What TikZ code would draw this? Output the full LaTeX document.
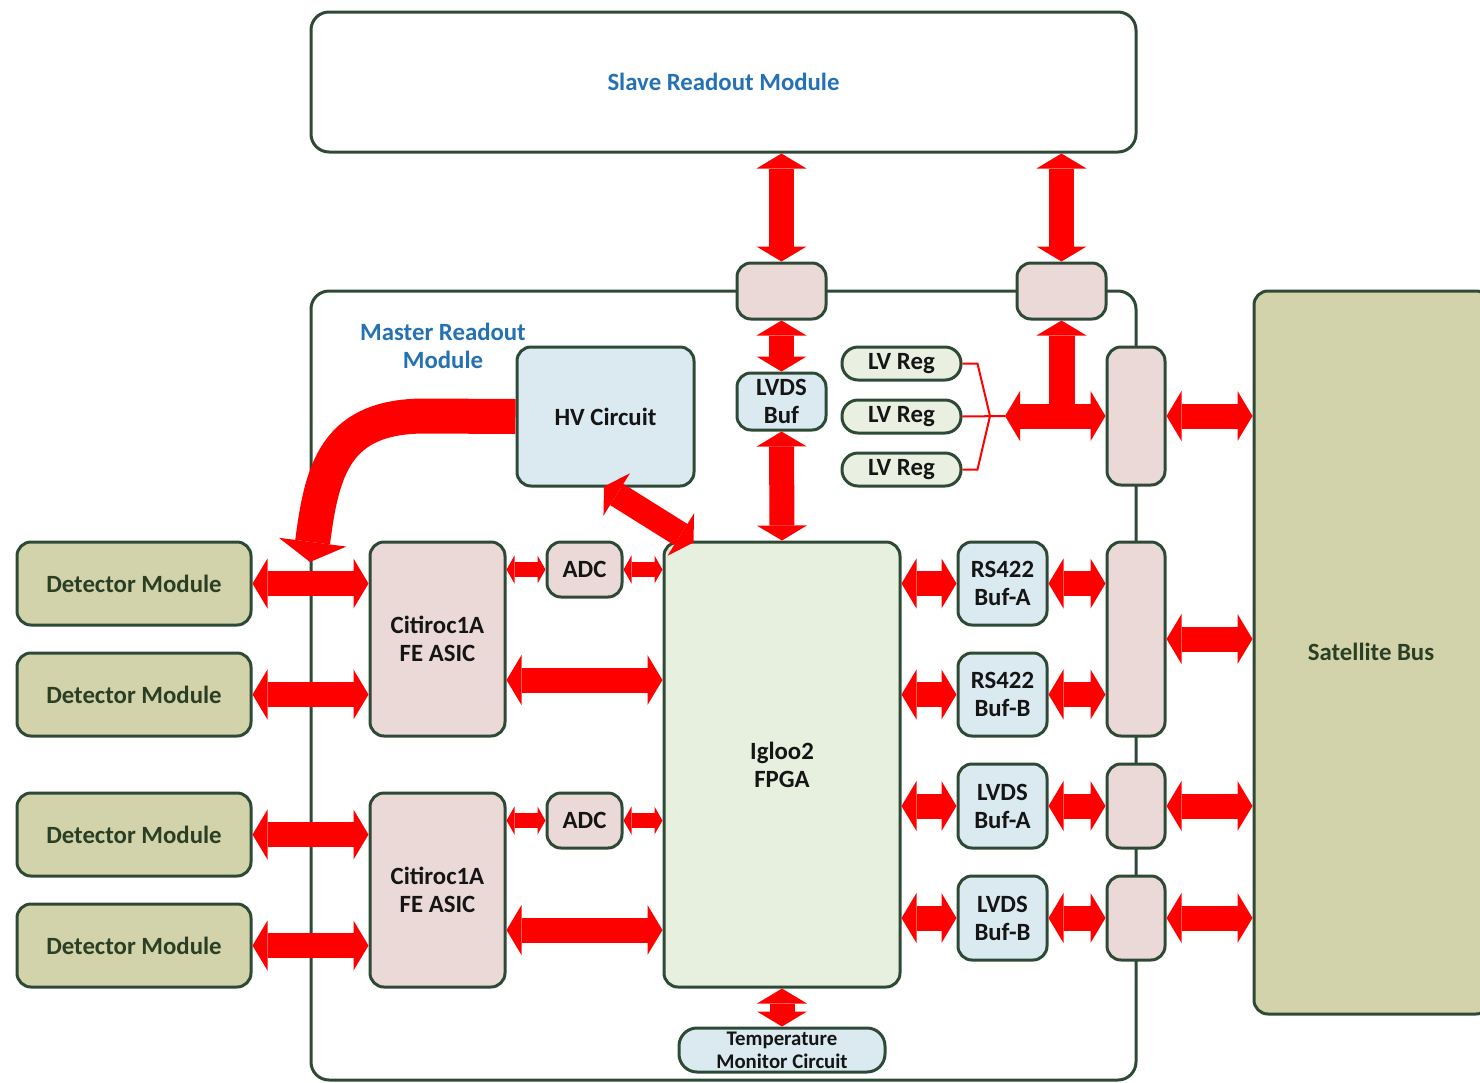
\documentclass[tikz,border=0pt]{standalone}
\usepackage{fontspec}
\setmainfont{Carlito}
\usetikzlibrary{arrows.meta,calc}
\definecolor{bord}{HTML}{2E4A36}
\definecolor{ared}{HTML}{FF0000}
\definecolor{khaki}{HTML}{D3D3AB}
\definecolor{pinkc}{HTML}{EBD9D7}
\definecolor{lblue}{HTML}{DBEAF1}
\definecolor{fgreen}{HTML}{E7EFDE}
\definecolor{lvgreen}{HTML}{E9F0E1}
\definecolor{tblue}{HTML}{2471B3}
\definecolor{tgreen}{HTML}{2B3F24}
\definecolor{tblack}{HTML}{151515}
\newcommand\lblfont{\fontsize{12.4}{14}\selectfont\bfseries}
\newcommand\smlfont{\fontsize{10.4}{11.5}\selectfont\bfseries}
\tikzset{
  box/.style={draw=bord, line width=1.5pt, rounded corners=7pt, align=center,
    inner sep=0pt, font=\lblfont, text=tblack},
  conn/.style={box, fill=pinkc},
  arr/.style={draw=ared, line width=12.5pt,
    arrows={Triangle[width=25pt,length=7.5pt,line width=0pt]-Triangle[width=25pt,length=7.5pt,line width=0pt]}},
  sarr/.style={draw=ared, line width=7.5pt,
    arrows={Triangle[width=14pt,length=4pt,line width=0pt]-Triangle[width=14pt,length=4pt,line width=0pt]}},
  lvline/.style={draw=ared, line width=1pt},
}
\begin{document}
\begin{tikzpicture}[x=0.5pt,y=-0.5pt]
\fill[white] (0,0) rectangle (1480,1083);
\clip (0,0) rectangle (1480,1083);

% frames
\node[box, fill=white, rounded corners=9pt, minimum width=412.5pt, minimum height=70pt, text=tblue] (slave) at (723.5,82) {Slave Readout Module};
\node[box, fill=white, rounded corners=9pt, minimum width=412.5pt, minimum height=394.5pt] (master) at (723.5,685.5) {};
\node[font=\lblfont, text=tblue, align=center, inner sep=0pt] (mlabel) at (443,346) {Master Readout\\Module};

% connectors
\node[conn, minimum width=44.5pt, minimum height=28pt] (conT1) at (781.5,291) {};
\node[conn, minimum width=44.5pt, minimum height=28pt] (conT2) at (1061.5,291) {};
\node[conn, minimum width=29pt, minimum height=69pt] (conR1) at (1136,416) {};
\node[conn, minimum width=29pt, minimum height=97pt] (conR2) at (1136,639) {};
\node[conn, minimum width=29pt, minimum height=42pt] (conR3) at (1136,806) {};
\node[conn, minimum width=29pt, minimum height=42pt] (conR4) at (1136,918) {};

% blocks
\node[box, fill=lblue, minimum width=88.5pt, minimum height=69.5pt] (hv) at (605.5,416.5) {HV Circuit};
\node[box, fill=lblue, minimum width=44.5pt, minimum height=28.5pt] (lvdsbuf) at (781.5,401.5) {LVDS\\Buf};
\node[box, fill=lvgreen, rounded corners=8pt, minimum width=59.5pt, minimum height=16.5pt] (lv1) at (901.5,363.5) {LV Reg};
\node[box, fill=lvgreen, rounded corners=8pt, minimum width=59.5pt, minimum height=16.5pt] (lv2) at (901.5,416.5) {LV Reg};
\node[box, fill=lvgreen, rounded corners=8pt, minimum width=59.5pt, minimum height=16.5pt] (lv3) at (901.5,469.5) {LV Reg};

\node[box, fill=khaki, text=tgreen, minimum width=117pt, minimum height=41.5pt] (det1) at (134,583.5) {Detector Module};
\node[box, fill=khaki, text=tgreen, minimum width=117pt, minimum height=41.5pt] (det2) at (134,694.5) {Detector Module};
\node[box, fill=khaki, text=tgreen, minimum width=117pt, minimum height=41.5pt] (det3) at (134,834.5) {Detector Module};
\node[box, fill=khaki, text=tgreen, minimum width=117pt, minimum height=41.5pt] (det4) at (134,945.5) {Detector Module};

\node[box, fill=pinkc, minimum width=67.5pt, minimum height=97pt] (cit1) at (437.5,639) {Citiroc1A\\FE ASIC};
\node[box, fill=pinkc, minimum width=67.5pt, minimum height=97pt] (cit2) at (437.5,890) {Citiroc1A\\FE ASIC};
\node[box, fill=pinkc, minimum width=37.5pt, minimum height=27.5pt] (adc1) at (584.5,569.5) {ADC};
\node[box, fill=pinkc, minimum width=37.5pt, minimum height=27.5pt] (adc2) at (584.5,820.5) {ADC};

\node[box, fill=fgreen, minimum width=118pt, minimum height=222.5pt] (fpga) at (782,764.5) {Igloo2\\FPGA};

\node[box, fill=lblue, minimum width=44.5pt, minimum height=41.5pt] (rsA) at (1002.5,583.5) {RS422\\Buf-A};
\node[box, fill=lblue, minimum width=44.5pt, minimum height=41.5pt] (rsB) at (1002.5,694.5) {RS422\\Buf-B};
\node[box, fill=lblue, minimum width=44.5pt, minimum height=42pt] (lvA) at (1002.5,806) {LVDS\\Buf-A};
\node[box, fill=lblue, minimum width=44.5pt, minimum height=42pt] (lvB) at (1002.5,918) {LVDS\\Buf-B};

\node[box, fill=lblue, rounded corners=9pt, font=\smlfont, minimum width=103pt, minimum height=22pt] (temp) at (782,1050) {Temperature\\Monitor Circuit};

\node[box, fill=khaki, text=tgreen, minimum width=118pt, minimum height=361.5pt] (sat) at (1372,652.5) {};
\node[font=\lblfont, text=tgreen, inner sep=0pt] (satlabel) at (1371,652) {Satellite Bus};

% vertical arrows to slave module
\draw[arr] (slave.south -| conT1) -- (conT1.north);
\draw[arr] (slave.south -| conT2) -- (conT2.north);
\draw[arr] (conT1.south) -- (lvdsbuf.north);
\draw[arr] (lvdsbuf.south) -- (fpga.north);
\draw[arr] (fpga.south) -- (temp.north);

% LV power branch
\coordinate (lvj) at (1005,416);
\coordinate (lvm) at (990,416);
\draw[draw=ared, line width=13pt,
  arrows={Triangle[width=25pt,length=7.5pt,line width=0pt]-}] (conT2.south) -- (conT2.south |- lvj);
\draw[arr] (lvj) -- (conR1.west);
\draw[lvline] (lv1.east) -- ++(15,0) -- (lvm);
\draw[lvline] (lv3.east) -- ++(15,0) -- (lvm);
\draw[lvline] (lv2.east) -- (lvj);

% detector arrows
\draw[arr] (det1.east) -- (det1.east -| cit1.west);
\draw[arr] (det2.east) -- (det2.east -| cit1.west);
\draw[arr] (det3.east) -- (det3.east -| cit2.west);
\draw[arr] (det4.east) -- (det4.east -| cit2.west);

% ASIC / ADC / FPGA
\draw[sarr] (cit1.east |- adc1) -- (adc1.west);
\draw[sarr] (adc1.east) -- (adc1.east -| fpga.west);
\draw[sarr] (cit2.east |- adc2) -- (adc2.west);
\draw[sarr] (adc2.east) -- (adc2.east -| fpga.west);
\draw[arr] (cit1.east |- 0,680) -- (fpga.west |- 0,680);
\draw[arr] (cit2.east |- 0,930) -- (fpga.west |- 0,930);

% FPGA to buffers to connectors
\draw[arr] (fpga.east |- rsA) -- (rsA.west);
\draw[arr] (fpga.east |- rsB) -- (rsB.west);
\draw[arr] (fpga.east |- lvA) -- (lvA.west);
\draw[arr] (fpga.east |- lvB) -- (lvB.west);
\draw[arr] (rsA.east) -- (rsA.east -| conR2.west);
\draw[arr] (rsB.east) -- (rsB.east -| conR2.west);
\draw[arr] (lvA.east) -- (conR3.west);
\draw[arr] (lvB.east) -- (conR4.west);

% connectors to satellite bus
\draw[arr] (conR1.east) -- (conR1.east -| sat.west);
\draw[arr] (conR2.east) -- (conR2.east -| sat.west);
\draw[arr] (conR3.east) -- (conR3.east -| sat.west);
\draw[arr] (conR4.east) -- (conR4.east -| sat.west);

% HV arrows
\draw[arr] ([xshift=-0.75pt,yshift=0.5pt]hv.south) -- ([xshift=15.5pt,yshift=-1pt]fpga.north west);
\draw[draw=ared, line width=17.5pt,
  arrows={-Triangle[width=34pt,length=10pt,line width=0pt]}]
  (hv.west) -- (425,416) .. controls (335,416) and (322,470) .. (310,562);
\end{tikzpicture}
\end{document}
